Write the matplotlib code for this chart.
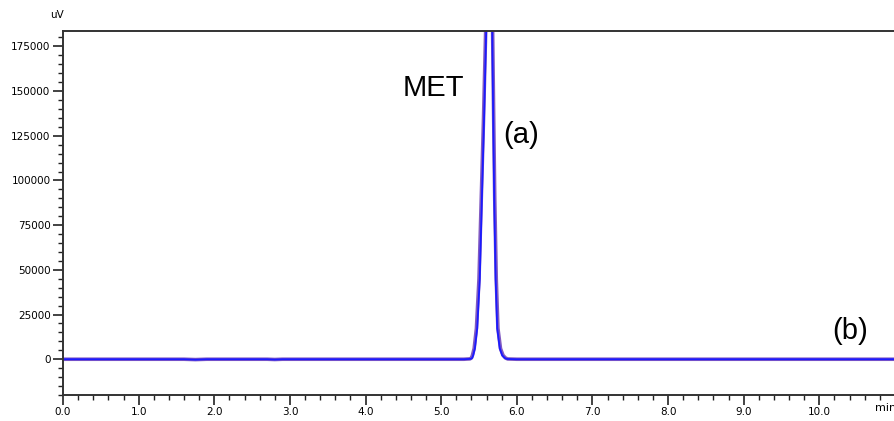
import numpy as np
import matplotlib.pyplot as plt

# retention time (min) and detector response (uV)
time_a = [0.0, 1.6, 1.75, 1.9, 2.7, 2.8, 2.9, 5.30, 5.39, 5.41, 5.423, 5.445, 5.476, 5.51,
          5.538, 5.567, 5.595, 5.635, 5.675, 5.688, 5.701, 5.72, 5.741, 5.775, 5.807,
          5.84, 5.87, 6.0, 8.0, 11.0]
signal_a = [0, 0, -250, 0, 0, -200, 0, 0, 200, 700, 2200, 6000, 17300, 45000,
            90000, 135000, 183400, 240000, 183400, 135000, 90000, 45000, 17300, 6000, 2200,
            700, 150, 0, 0, 0]

time_b = [0.0, 1.6, 1.75, 1.9, 2.7, 2.8, 2.9, 5.30, 5.38, 5.40, 5.413, 5.436, 5.466, 5.50,
          5.530, 5.560, 5.588, 5.630, 5.680, 5.694, 5.708, 5.728, 5.750, 5.784, 5.817,
          5.85, 5.88, 6.0, 8.0, 11.0]
signal_b = [0, 0, -200, 0, 0, -150, 0, 0, 200, 700, 2200, 6000, 17300, 45000,
            90000, 135000, 183400, 240000, 183400, 135000, 90000, 45000, 17300, 6000, 2200,
            700, 150, 0, 0, 0]

xticks = np.arange(0, 11, 1.0)
yticks = np.arange(0, 175001, 25000)

fig = plt.figure(figsize=(8.95, 4.21), dpi=100)
ax = fig.add_axes([0.0704, 0.0618, 0.9296, 0.864])

ax.plot(time_b, signal_b, color='#6a3cb8', lw=2.6, alpha=0.85)
ax.plot(time_a, signal_a, color='#1a1aff', lw=1.3)

ax.set_xlim(0, 11.0)
ax.set_ylim(-20000, 183500)

ax.set_xticks(xticks)
ax.set_xticklabels(['%.1f' % v for v in xticks])
ax.set_xticks(np.arange(0, 11.01, 0.2), minor=True)
ax.set_yticks(yticks)
ax.set_yticklabels([str(int(v)) for v in yticks])
ax.set_yticks(np.arange(-20000, 183500, 5000), minor=True)

ax.tick_params(axis='both', which='major', direction='out', length=7, width=1.2,
               labelsize=7.5, colors='#222222', labelcolor='black')
ax.tick_params(axis='both', which='minor', direction='out', length=3.5, width=1.0,
               colors='#222222')
ax.tick_params(axis='x', pad=2)
ax.tick_params(axis='y', pad=2)

for s in ['left', 'bottom', 'top']:
    ax.spines[s].set_linewidth(1.4)
    ax.spines[s].set_color('#333333')
ax.spines['right'].set_visible(False)

fig.text(0.0637, 0.965, 'uV', fontsize=7.5, ha='center', va='center')
fig.text(0.978, 0.03, 'min', fontsize=8, ha='left', va='center')

ax.text(0.484, 0.791, 'MET', transform=fig.transFigure, fontsize=21,
        family='Liberation Sans', ha='center', va='center')
ax.text(0.582, 0.68, '(a)', transform=fig.transFigure, fontsize=21,
        family='Liberation Sans', ha='center', va='center')
ax.text(0.950, 0.214, '(b)', transform=fig.transFigure, fontsize=21,
        family='Liberation Sans', ha='center', va='center')

plt.savefig('out.png', dpi=100)
